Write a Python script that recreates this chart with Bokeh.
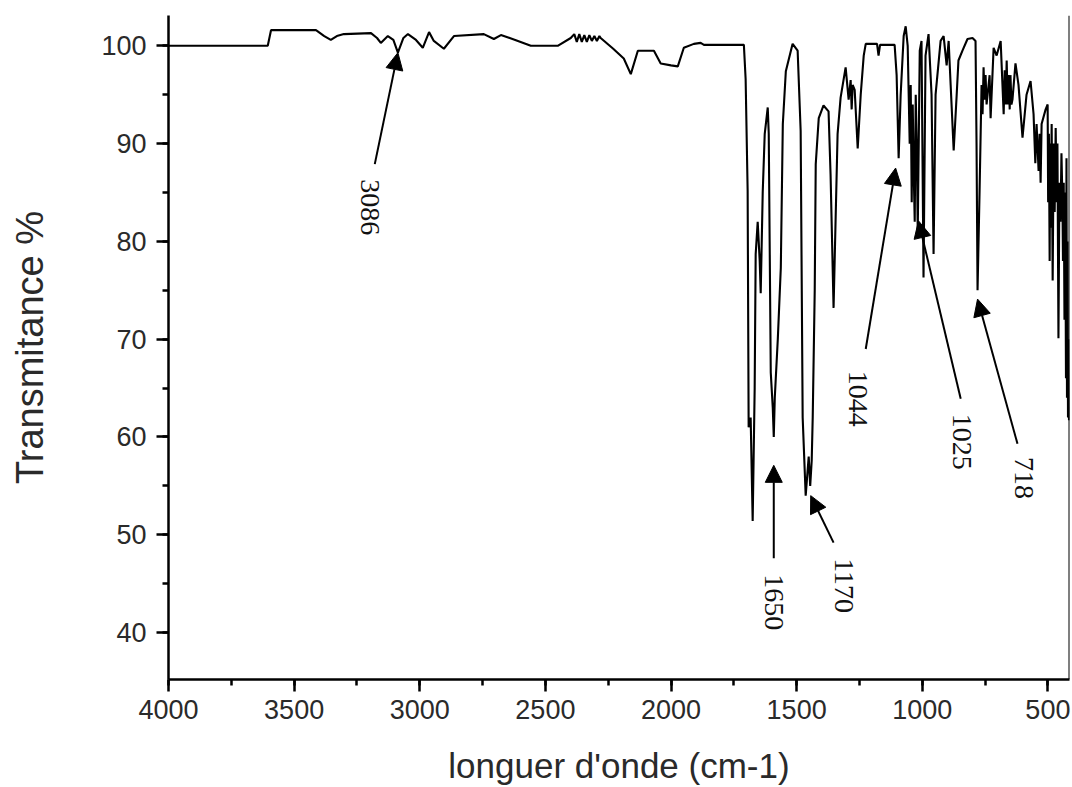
import math
from bokeh.plotting import figure
from bokeh.models import Range1d, SingleIntervalTicker, Arrow, NormalHead, Span, ColumnDataSource
from bokeh.embed import file_html
from bokeh.resources import INLINE
from bokeh.core.properties import value

# IR spectrum (wavenumber in cm-1, transmittance in %)
wavenumber = [
    4000, 3605, 3592, 3413, 3380, 3354, 3330, 3302, 3194, 3170, 3155, 3127, 3105, 3087,
    3065, 3047, 3015, 2988, 2963, 2944, 2904, 2864, 2745, 2705, 2677, 2620, 2558, 2451,
    2399, 2385, 2375, 2365, 2355, 2345, 2335, 2325, 2315, 2305, 2295, 2285, 2280, 2230, 2188,
    2160, 2132, 2068, 2041, 2000, 1973, 1949, 1909, 1882, 1869, 1710,
    1703, 1695, 1691, 1683, 1675, 1667, 1663, 1655, 1647, 1643, 1635, 1627, 1615, 1611,
    1603, 1595, 1591, 1587, 1583, 1575, 1563, 1555, 1543, 1516, 1496, 1484, 1476, 1464, 1452,
    1446, 1440, 1436, 1428, 1424, 1412, 1393, 1373, 1365, 1353, 1337, 1325, 1305, 1293, 1285,
    1281, 1277, 1269, 1257, 1245, 1233, 1225, 1180, 1174, 1168, 1110, 1102, 1094, 1086, 1074,
    1066, 1058, 1050, 1046, 1042, 1038, 1034, 1030, 1026, 1022, 1018, 1010, 1003, 995, 987,
    975, 963, 955, 947, 927, 915, 903, 895, 887, 875, 863, 856, 840, 820, 800, 788, 784, 780,
    772, 764, 760, 756, 752, 748, 744, 732, 728, 716, 704, 688, 676, 672, 668, 664, 660, 656,
    652, 649, 645, 641, 629, 617, 601, 585, 569, 557, 550, 545, 537, 533, 529, 525, 509, 501,
    499, 496, 493, 491, 489, 485, 481, 477, 473, 469, 465, 462, 458, 454, 450, 446, 442, 440,
    437, 434, 431, 428, 426, 424, 422, 420, 418, 416, 415,
]
transmittance = [
    100.0, 100.0, 101.6, 101.6, 101.0, 100.6, 101.0, 101.2, 101.3, 100.8, 100.3, 101.0, 100.6, 99.3,
    100.8, 101.2, 100.6, 99.8, 101.4, 100.5, 99.7, 101.0, 101.2, 100.7, 101.1, 100.6, 100.0, 100.0,
    100.8, 101.2, 100.4, 101.2, 100.4, 101.1, 100.4, 101.1, 100.5, 101.0, 100.5, 101.0, 100.8, 99.7, 98.7,
    97.1, 99.5, 99.5, 98.2, 98.0, 97.9, 99.8, 100.2, 100.3, 100.1, 100.1,
    96.6, 85.2, 61.0, 62.0, 51.4, 65.0, 78.7, 82.0, 78.0, 74.7, 85.0, 91.0, 93.7, 91.0,
    66.6, 63.0, 60.0, 64.0, 66.0, 70.0, 77.3, 92.0, 97.4, 100.2, 99.5, 91.3, 62.0, 54.0, 58.0,
    55.0, 57.6, 62.0, 75.0, 87.9, 92.6, 93.9, 93.3, 86.9, 73.2, 91.0, 94.7, 97.8, 94.5, 96.5,
    93.5, 96.0, 95.5, 89.5, 95.0, 99.0, 100.2, 100.2, 99.0, 100.1, 100.1, 97.0, 88.5, 95.0, 101.0,
    102.0, 100.0, 90.0, 96.0, 84.0, 94.0, 87.0, 82.0, 95.0, 90.0, 81.0, 99.5, 100.5, 76.3, 99.0,
    101.2, 95.0, 78.7, 95.0, 100.5, 101.0, 98.0, 100.5, 96.0, 89.3, 95.0, 98.5, 99.5, 100.7, 100.8, 100.5, 90.0, 75.0,
    85.0, 96.0, 93.0, 97.8, 94.5, 97.0, 94.0, 97.0, 92.6, 99.8, 99.0, 100.5, 93.0, 97.5, 94.0, 98.5, 94.0, 97.0,
    93.5, 97.0, 94.0, 94.5, 98.2, 96.0, 90.6, 95.0, 96.4, 93.0, 88.0, 92.0, 87.2, 91.0, 86.0, 92.0, 93.5, 94.0,
    84.0, 91.0, 78.0, 90.0, 81.4, 92.0, 76.0, 90.0, 83.0, 91.6, 84.0, 90.0, 70.1, 86.0, 82.0, 89.0, 84.0, 78.0,
    86.0, 72.0, 85.0, 66.0, 88.5, 64.0, 80.0, 62.0, 70.0, 61.7, 63.0,
]

# Peak annotations
peak_labels = ["3086", "1650", "1170", "1044", "1025", "718"]
arrow_tip_x = [3087, 1591, 1444, 1106, 1015, 780]
arrow_tip_y = [99.3, 57.1, 54.0, 87.5, 82.1, 74.1]
arrow_tail_x = [3179, 1591, 1353, 1225, 847, 621]
arrow_tail_y = [87.9, 47.6, 49.2, 69.0, 63.9, 59.3]
label_x = [3198, 1591, 1313, 1257, 840, 597]
label_y = [83.5, 43.1, 44.8, 63.9, 59.5, 55.8]

x_ticks = [4000, 3500, 3000, 2500, 2000, 1500, 1000, 500]
y_ticks = [40, 50, 60, 70, 80, 90, 100]

p = figure(width=1072, height=787,
           x_range=Range1d(4000, 414), y_range=Range1d(35.2, 103.1),
           output_backend="svg", toolbar_location=None,
           min_border_left=168, min_border_right=3, min_border_top=15, min_border_bottom=108)

p.line(wavenumber, transmittance, line_color="black", line_width=2.1)

src = ColumnDataSource(dict(x0=arrow_tail_x, y0=arrow_tail_y, x1=arrow_tip_x, y1=arrow_tip_y))
p.add_layout(Arrow(end=NormalHead(size=17, fill_color="black", line_color="black"),
                   x_start="x0", y_start="y0", x_end="x1", y_end="y1",
                   line_color="black", line_width=2, source=src))

p.text(x=label_x, y=label_y, text=peak_labels, angle=-math.pi / 2,
       text_align="center", text_baseline="middle",
       text_font=value("Liberation Serif"), text_font_size="28px", text_color="#111111")

p.add_layout(Span(location=414, dimension="height", line_color="black", line_width=2))

p.grid.visible = False
p.outline_line_color = None
p.background_fill_color = "white"
p.border_fill_color = "white"

p.xaxis.ticker = SingleIntervalTicker(interval=500, num_minor_ticks=2)
p.yaxis.ticker = SingleIntervalTicker(interval=10, num_minor_ticks=2)

for ax in (p.xaxis, p.yaxis):
    ax.axis_line_width = 2.5
    ax.axis_line_color = "black"
    ax.major_tick_line_width = 2.5
    ax.minor_tick_line_width = 2.5
    ax.major_tick_line_color = "black"
    ax.minor_tick_line_color = "black"
    ax.major_tick_in = 0
    ax.minor_tick_in = 0
    ax.major_tick_out = 12
    ax.minor_tick_out = 6
    ax.major_label_text_font = "Liberation Sans"
    ax.major_label_text_font_size = "27px"
    ax.major_label_text_color = "#2a2a2a"
    ax.axis_label_text_font = "Liberation Sans"
    ax.axis_label_text_font_style = "normal"
    ax.axis_label_text_color = "#2a2a2a"

p.xaxis.major_label_standoff = 8
p.yaxis.major_label_standoff = 10
p.xaxis.axis_label = "longuer d'onde (cm-1)"
p.yaxis.axis_label = "Transmitance %"
p.xaxis.axis_label_text_font_size = "35px"
p.yaxis.axis_label_text_font_size = "38px"
p.xaxis.axis_label_standoff = 24
p.yaxis.axis_label_standoff = 47

open("out.html", "w").write(file_html(p, INLINE))
